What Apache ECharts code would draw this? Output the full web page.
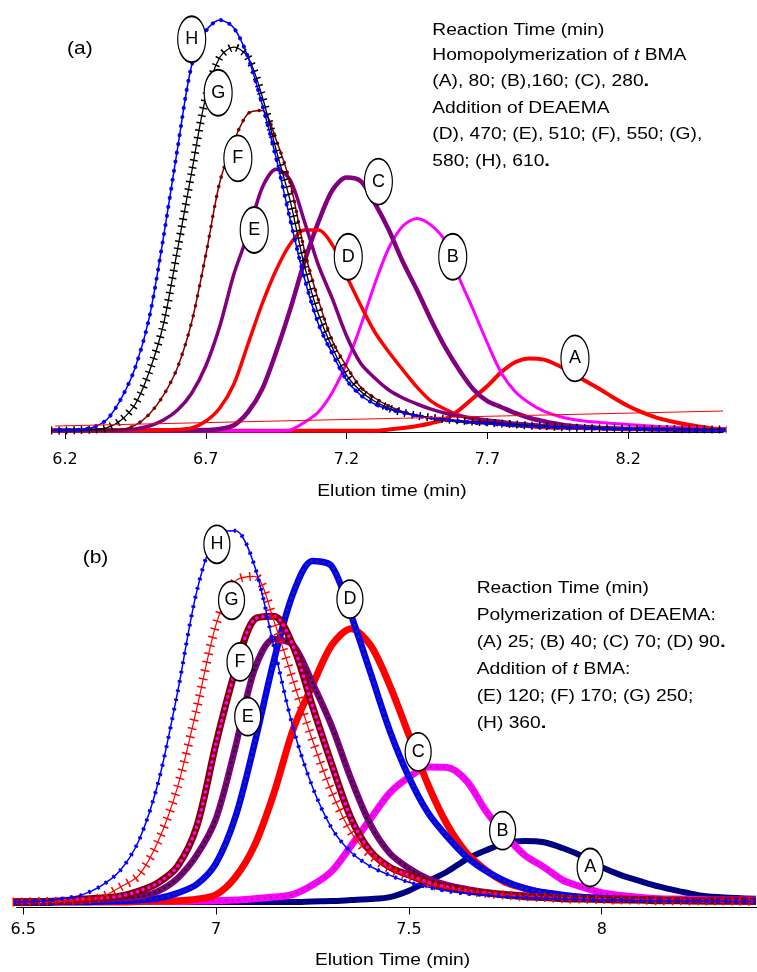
<!DOCTYPE html>
<html>
<head>
<meta charset="utf-8">
<script src="https://cdn.jsdelivr.net/npm/echarts@6/dist/echarts.min.js"></script>
<style>
html,body{margin:0;padding:0;background:#fff}
#chart{width:757px;height:972px}
</style>
</head>
<body>
<div id="chart"></div>
<script>
// ---------- Panel (a): tBMA homopolymerization, then DEAEMA addition ----------
const timeA = [6.15,6.2,6.25,6.3,6.35,6.4,6.45,6.5,6.55,6.6,6.65,6.7,6.75,6.8,6.85,6.9,6.95,7,7.05,7.1,7.15,7.2,7.25,7.3,7.35,7.4,7.45,7.5,7.55,7.6,7.65,7.7,7.75,7.8,7.85,7.9,7.95,8,8.05,8.1,8.15,8.2,8.25,8.3,8.35,8.4,8.45,8.5,8.55];
const aA = [0.3,0.3,0.3,0.3,0.3,0.3,0.3,0.3,0.3,0.3,0.3,0.3,0.3,0.3,0.3,0.3,0.3,0.3,0.3,0.3,0.3,0.3,0.3,0.3,0.6,1,1.5,2.2,3.2,5.5,8.5,11.5,15,17.5,18.4,18.1,16.7,14.7,12.7,10.7,8.5,6.5,4.9,3.6,2.7,2,1.4,0.9,0.7];
const aB = [0.3,0.3,0.3,0.3,0.3,0.3,0.3,0.3,0.3,0.3,0.3,0.3,0.3,0.3,0.3,0.3,0.3,0.5,2.4,5,10,17.2,26.5,37,46,51.5,53.4,51.7,47.7,38.5,30.5,22.2,14.7,10,7.2,5.2,4,3.2,2.7,2.4,2.1,1.9,1.6,1.4,1.25,1.1,1,0.9,0.9];
const aC = [0.4,0.4,0.4,0.4,0.4,0.4,0.4,0.4,0.4,0.4,0.4,0.5,0.75,1.7,5,10.7,20,30.7,42.5,52.5,60.5,63.6,62.7,57.2,50.5,42.5,35.5,28,21.2,15.5,10.7,7.7,6.2,4.7,3.5,2.7,2,1.5,1.25,1,0.9,0.75,0.75,0.6,0.6,0.5,0.5,0.5,0.5];
const aD = [0.3,0.3,0.3,0.3,0.3,0.3,0.3,0.4,0.5,0.6,1,2.7,6,12,22,32,40.5,47,50.5,50.5,46.7,39,31.7,25,20,15.5,11.2,7.7,5.7,4.2,3.2,2.5,2,1.6,1.4,1.1,1,0.95,0.9,0.85,0.8,0.75,0.7,0.7,0.65,0.6,0.6,0.6,0.6];
const aE = [0.4,0.4,0.4,0.4,0.4,0.5,0.75,1.5,3,5.5,9.7,16.5,26.5,39.5,49.5,61,65.7,63,52.7,41.7,33.2,24,17.2,13.5,10.5,8.5,7,5.7,4.7,4,3.5,3,2.6,2.2,1.9,1.6,1.4,1.25,1.1,1,0.9,0.9,0.75,0.75,0.6,0.6,0.5,0.5,0.5];
const aF = [0.4,0.4,0.4,0.5,0.5,0.6,1.7,4.5,9.2,16.2,27.5,44.2,62.5,72.7,79.6,80.4,73,62.2,45.5,33,22.7,16.4,11.2,8.5,6.5,5.1,4.1,3.4,2.9,2.5,2.2,2,1.75,1.5,1.4,1.25,1.1,1,0.95,0.9,0.85,0.8,0.75,0.7,0.7,0.65,0.6,0.6,0.6];
const aG = [0.4,0.4,0.5,0.6,1.1,3,7,15.2,27,45.7,65,83.7,93.7,96.2,93.7,84,70.5,57.7,41.7,29.5,21,14.2,10.2,7.7,6,4.9,4.1,3.6,3.2,2.9,2.6,2.4,2.1,1.9,1.6,1.5,1.25,1.1,1,0.9,0.85,0.8,0.8,0.75,0.75,0.7,0.7,0.65,0.65];
const aH = [0.5,0.5,0.6,1.2,3.2,8.4,16.2,28.8,48.8,71,91.7,100.2,103,101,93.7,82,68.5,53,38.5,27,19.5,13,9.2,7,5.7,4.8,4,3.5,3.1,2.7,2.4,2.1,1.9,1.6,1.45,1.25,1.1,1,0.95,0.85,0.8,0.7,0.65,0.6,0.55,0.5,0.45,0.4,0.4];
// straight baseline drawn across panel (a)
const baseTimeA = [6.165, 8.537];
const baseValA = [1.5, 5.25];
const ticksA = [6.2, 6.7, 7.2, 7.7, 8.2];
const tagNamesA = ['A','B','C','D','E','F','G','H'];
const tagTimeA = [8.011, 7.577, 7.313, 7.206, 6.872, 6.814, 6.744, 6.650];
const tagValA = [18.4, 43.8, 62.6, 43.8, 50.5, 68.4, 84.8, 98.2];

// ---------- Panel (b): DEAEMA polymerization, then tBMA addition ----------
const timeB = [6.45,6.5,6.55,6.6,6.65,6.7,6.75,6.8,6.85,6.9,6.95,7,7.05,7.1,7.15,7.2,7.25,7.3,7.35,7.4,7.45,7.5,7.55,7.6,7.65,7.7,7.75,7.8,7.85,7.9,7.95,8,8.05,8.1,8.15,8.2,8.25,8.3,8.35,8.4];
const bA = [0.75,0.75,0.75,0.75,0.75,0.75,0.75,0.75,0.75,0.75,0.75,0.75,0.75,0.75,0.75,0.75,0.9,1,1.25,1.5,2,3.6,6,8.4,11.5,13.7,15.5,16,15.7,14.2,12.2,9.5,7.5,6,4.6,3.5,2.5,2,1.75,1.6];
const bB = [0.9,0.9,0.9,0.9,0.9,0.9,0.9,0.9,0.9,0.9,1,1.1,1.25,1.6,2,2.7,5,8.5,14.8,21.5,28,32,34.5,34.4,31,23.5,17.5,12.5,9.5,6.2,4.5,3.1,2.4,1.9,1.6,1.5,1.4,1.25,1.25,1.25];
const bC = [0.75,0.75,0.75,0.75,0.75,0.75,0.75,0.9,1,1.1,1.5,2.6,7,15,28,44,55,65,69.1,65,55,42.5,30,20,13,8.7,5.7,4.2,2.9,2.2,1.9,1.6,1.5,1.4,1.25,1.25,1.1,1.1,1,1];
const bD = [0.6,0.6,0.6,0.75,0.75,0.9,1,1.25,1.7,3,5.2,10.5,22,40.5,61.2,78,86,84.7,72.5,58.2,43.7,32,23,17,12,8.5,6,4.2,3.2,2.5,2,1.75,1.5,1.4,1.25,1.1,1.1,1,1,1];
const bE = [0.75,0.8,0.9,1,1.1,1.4,1.75,2.1,3.5,6.7,12.5,21.7,39.5,59,66.5,65,55.5,44.7,31.5,20.2,13,9.2,6.5,5,4,3.2,2.7,2.4,2,1.75,1.6,1.5,1.4,1.25,1.25,1.1,1.1,1,1,1];
const bF = [0.75,0.75,0.9,1.1,1.5,1.75,2.2,3.5,5.6,9.7,19.7,40.5,58.7,71.5,72.2,64.7,49.7,35.2,21.7,13.5,9.5,7.5,5.7,4.5,3.6,3,2.5,2.1,1.9,1.6,1.5,1.4,1.25,1.25,1.1,1.1,1,1,1,0.9];
const bG = [0.75,0.8,0.9,1,1.25,1.9,4.4,7.5,16,29.5,49.2,70.2,81,82.2,71,56,41.2,28.2,18.2,12.5,9,7,5.2,4.2,3.5,2.9,2.5,2.1,1.9,1.6,1.5,1.4,1.25,1.25,1.1,1.1,1,1,1,0.9];
const bH = [0.75,0.8,1,1.6,2.5,4.7,8.5,16.2,30.7,53.2,78.5,92.5,93.6,84.7,64.5,44.2,29.5,19.2,13.2,9.7,7.5,5.7,4.5,3.5,2.9,2.5,2.1,1.9,1.7,1.5,1.4,1.25,1.25,1.1,1.1,1,1,1,0.9,0.9];
const ticksB = [6.5, 7, 7.5, 8];
const tagNamesB = ['A','B','C','D','E','F','G','H'];
const tagTimeB = [7.970, 7.743, 7.524, 7.347, 7.082, 7.062, 7.040, 7.002];
const tagValB = [9.4, 18.6, 38.3, 76.5, 47.1, 60.8, 76.2, 90.2];

// ---------- helpers ----------
const TXT = '"Liberation Sans", Arial, sans-serif';
function pairs(t, v) { return t.map((x, i) => [x, v[i]]); }
function trace(ax, t, v, color, width, dash, cap) {
  return {
    type: 'line', xAxisIndex: ax, yAxisIndex: ax, data: pairs(t, v),
    smooth: 0.3, showSymbol: false, symbol: 'none',
    lineStyle: { color: color, width: width, type: dash || 'solid', cap: cap || 'butt', join: 'round' },
    itemStyle: { color: color }, silent: true, animation: false, z: 2
  };
}
const ellipse = 'path://M0,50A50,50 0 1,1 100,50A50,50 0 1,1 0,50Z';
function tags(ax, names, t, v, size) {
  return {
    type: 'scatter', xAxisIndex: ax, yAxisIndex: ax,
    data: names.map((n, i) => [t[i], v[i], n]),
    symbol: ellipse, symbolSize: size,
    itemStyle: { color: '#fff', borderColor: '#000', borderWidth: 1.5, opacity: 1 },
    label: { show: true, position: 'inside', formatter: p => p.data[2], color: '#000', fontSize: 18, fontFamily: TXT },
    silent: true, animation: false, z: 10
  };
}
function note(x, y, text, size, align) {
  return {
    type: 'text', x: x, y: y, scaleX: 1.2, silent: true,
    style: {
      text: text, fontSize: size || 16, fontFamily: TXT, fill: '#000',
      align: align || 'left', verticalAlign: 'middle',
      rich: {
        i: { fontStyle: 'italic', fontSize: size || 16, fontFamily: TXT },
        b: { fontWeight: 'bold', fontSize: (size || 16) + 1, fontFamily: TXT }
      }
    }
  };
}
function xAxisFor(grid, min, max, ticks, margin) {
  return {
    gridIndex: grid, type: 'value', min: min, max: max,
    axisLine: { show: true, onZero: false, lineStyle: { color: '#000', width: 1 } },
    axisTick: { show: true, customValues: ticks, length: 7, lineStyle: { color: '#000', width: 1 } },
    axisLabel: { show: true, customValues: ticks, margin: margin, fontSize: 16, fontFamily: '"DejaVu Sans", sans-serif', color: '#000' },
    splitLine: { show: false }
  };
}

const chart = echarts.init(document.getElementById('chart'), null, { renderer: 'canvas' });
chart.setOption({
  backgroundColor: '#fff',
  animation: false,
  grid: [
    { left: 55.1, top: 12, width: 668, height: 420 },
    { left: 16.6, top: 505.1, width: 740.4, height: 402.4 }
  ],
  xAxis: [
    xAxisFor(0, 6.165, 8.537, ticksA, 20),
    xAxisFor(1, 6.4826, 8.4027, ticksB, 14)
  ],
  yAxis: [
    { gridIndex: 0, type: 'value', min: 0, max: 105, show: false },
    { gridIndex: 1, type: 'value', min: -0.6, max: 100, show: false }
  ],
  series: [
    // panel (a)
    trace(0, timeA, aA, '#ff0000', 4),
    trace(0, timeA, aB, '#ff00ff', 3),
    trace(0, timeA, aC, '#800080', 4.5),
    trace(0, timeA, aD, '#ff0000', 3.5),
    trace(0, timeA, aE, '#800080', 3.5),
    trace(0, timeA, aF, '#800000', 1.5),
    trace(0, timeA, aF, '#800000', 3.5, [0.1, 10], 'round'),
    trace(0, timeA, aG, '#000000', 1.3),
    trace(0, timeA, aG, '#000000', 8, [1.5, 6]),
    trace(0, timeA, aH, '#0000ff', 1.5),
    trace(0, timeA, aH, '#0000ff', 4, [0.1, 9], 'round'),
    { type: 'line', xAxisIndex: 0, yAxisIndex: 0, data: pairs(baseTimeA, baseValA), showSymbol: false, symbol: 'none',
      lineStyle: { color: '#ff0000', width: 1 }, silent: true, animation: false, z: 3 },
    tags(0, tagNamesA, tagTimeA, tagValA, [28, 46]),
    // panel (b)
    trace(1, timeB, bA, '#000080', 6),
    trace(1, timeB, bB, '#ff00ff', 7),
    trace(1, timeB, bB, '#5a4a5a', 2, [1.5, 5]),
    trace(1, timeB, bC, '#ff0000', 7),
    trace(1, timeB, bD, '#0000ff', 6.5),
    trace(1, timeB, bD, '#333333', 2.5, [0.1, 6], 'round'),
    trace(1, timeB, bE, '#800080', 6.5),
    trace(1, timeB, bE, '#111111', 2.5, [0.1, 5.5], 'round'),
    trace(1, timeB, bF, '#800000', 7),
    trace(1, timeB, bF, '#ff00ff', 3.5, [0.1, 6], 'round'),
    trace(1, timeB, bG, '#ff0000', 1.2),
    trace(1, timeB, bG, '#ff0000', 9, [1.5, 7]),
    trace(1, timeB, bH, '#0000ff', 1.5),
    trace(1, timeB, bH, '#0000ff', 4, [2.5, 7]),
    tags(1, tagNamesB, tagTimeB, tagValB, [26, 38])
  ],
  graphic: [
    note(67, 49, '(a)', 17.5),
    note(432.3, 30.7, 'Reaction Time (min)'),
    note(432.3, 56, 'Homopolymerization of {i|t} BMA'),
    note(432.3, 81.7, '(A), 80; (B),160; (C), 280{b|.}'),
    note(432.3, 108.3, 'Addition of DEAEMA'),
    note(432.3, 135, '(D), 470; (E), 510; (F), 550; (G),'),
    note(432.3, 161.7, '580; (H), 610{b|.}'),
    note(392, 492, 'Elution time (min)', 16, 'center'),
    note(82.7, 558.3, '(b)', 17.5),
    note(476.7, 588.3, 'Reaction Time (min)'),
    note(476.7, 615.7, 'Polymerization of DEAEMA:'),
    note(476.7, 642.7, '(A) 25; (B) 40; (C) 70; (D) 90{b|.}'),
    note(476.7, 670, 'Addition of {i|t} BMA:'),
    note(476.7, 696.7, '(E) 120; (F) 170; (G) 250;'),
    note(476.7, 723.3, '(H) 360{b|.}'),
    note(392.5, 961, 'Elution Time (min)', 16, 'center')
  ]
});
</script>
</body>
</html>
